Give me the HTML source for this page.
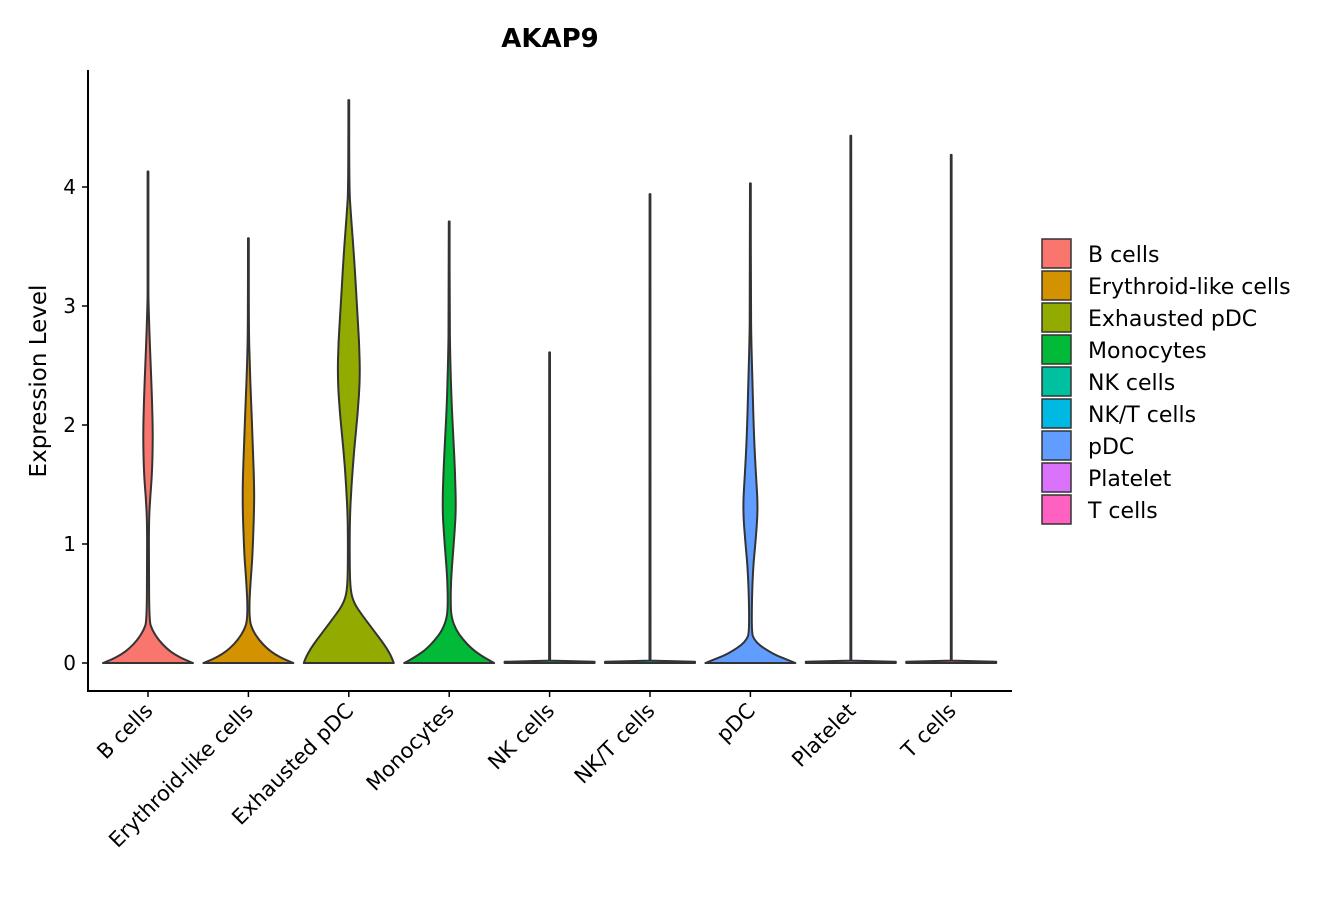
<!DOCTYPE html>
<html><head><meta charset="utf-8"><style>
body{margin:0;background:#fff;}
svg text{font-family:"DejaVu Sans","Liberation Sans",sans-serif;fill:#000;}
</style></head><body>
<svg id="chart" width="1327" height="900">
<text x="550" y="47" font-size="26" font-weight="bold" text-anchor="middle">AKAP9</text>
<text transform="translate(46,381) rotate(-90)" font-size="23" text-anchor="middle">Expression Level</text>
<g id="plot"></g>
<g id="legend"></g>
</svg>
<script>
const categories=["B cells","Erythroid-like cells","Exhausted pDC","Monocytes","NK cells","NK/T cells","pDC","Platelet","T cells"];
const colors=["#F8766D","#D39200","#93AA00","#00BA38","#00C19F","#00B9E3","#619CFF","#DB72FB","#FF61C3"];
const maxValues=[4.13,3.57,4.73,3.71,2.61,3.94,4.03,4.43,4.27];
const yTicks=[0,1,2,3,4];
// density profiles: levels (expression) and relative half-widths
const densLevels=[
 [0,0.03,0.07,0.12,0.2,0.28,0.35,0.8,1.2,1.4,1.6,1.9,2.2,2.5,2.8,3.05,3.2],
 [0,0.03,0.07,0.12,0.2,0.28,0.35,0.5,0.7,0.9,1.2,1.4,1.6,1.9,2.2,2.5,2.8],
 [0,0.05,0.12,0.2,0.3,0.4,0.5,0.6,0.8,1.2,1.5,1.8,2.1,2.4,2.7,3.0,3.4,3.8,4.0],
 [0,0.03,0.07,0.12,0.2,0.28,0.38,0.5,0.7,0.9,1.1,1.3,1.6,1.9,2.2,2.6,2.9],
 [0,0.01,0.02],
 [0,0.01,0.02],
 [0,0.03,0.06,0.1,0.15,0.2,0.25,0.5,0.8,1.0,1.3,1.6,1.9,2.3,2.7,3.0],
 [0,0.01,0.02],
 [0,0.01,0.02]
];
const densWidths=[
 [1,0.8,0.6,0.42,0.22,0.09,0.03,0.02,0.02,0.05,0.09,0.11,0.09,0.06,0.03,0.01,0.01],
 [1,0.8,0.6,0.42,0.22,0.09,0.03,0.02,0.05,0.09,0.12,0.13,0.12,0.09,0.06,0.03,0.01],
 [1,0.95,0.85,0.7,0.5,0.3,0.12,0.04,0.02,0.02,0.06,0.12,0.2,0.25,0.23,0.18,0.12,0.04,0.01],
 [1,0.85,0.68,0.5,0.3,0.15,0.05,0.03,0.04,0.08,0.12,0.15,0.13,0.09,0.05,0.02,0.01],
 [1,1,0.01],
 [1,1,0.01],
 [1,0.8,0.6,0.4,0.2,0.08,0.03,0.03,0.06,0.11,0.17,0.12,0.08,0.05,0.02,0.01],
 [1,1,0.01],
 [1,1,0.01]
];
const NS="http://www.w3.org/2000/svg";
const x0=88,x1=1012,yTop=70,yBot=691;
const yS=v=>663-v*119;
const xS=i=>148+i*100.4;
const hw=45;
function mk(tag,attrs,parent){const e=document.createElementNS(NS,tag);for(const k in attrs)e.setAttribute(k,attrs[k]);parent.appendChild(e);return e;}
function lin(pts){return "M"+pts.map(p=>p[0].toFixed(1)+","+p[1].toFixed(1)).join("L");}
function smooth(pts){if(pts.length<6)return lin(pts);
 let d="M"+pts[0][0].toFixed(1)+","+pts[0][1].toFixed(1);
 for(let k=1;k<pts.length-1;k++){const mx=(pts[k][0]+pts[k+1][0])/2,my=(pts[k][1]+pts[k+1][1])/2;d+="Q"+pts[k][0].toFixed(1)+","+pts[k][1].toFixed(1)+" "+mx.toFixed(1)+","+my.toFixed(1);}
 const l=pts[pts.length-1];d+="L"+l[0].toFixed(1)+","+l[1].toFixed(1);return d;}
const plot=document.getElementById('plot');
categories.forEach((c,i)=>{
 const cx=xS(i);
 const lv=densLevels[i].slice(),wd=densWidths[i].slice();
 lv.push(maxValues[i]);wd.push(0.008);
 let right=[],left=[];
 for(let k=0;k<lv.length;k++){right.push([cx+Math.max(wd[k]*hw,0.4),yS(lv[k])]);left.push([cx-Math.max(wd[k]*hw,0.4),yS(lv[k])]);}
 const d=smooth(right)+smooth(left.reverse()).replace("M","L")+"Z";
 const p=mk('path',{d:d,fill:colors[i],stroke:"#333",'stroke-width':2,'stroke-linejoin':'round'},plot);
 
 
 const t=mk('line',{x1:cx,x2:cx,y1:yBot,y2:yBot+6,stroke:"#000",'stroke-width':1.5},plot);
 
 
 const lab=mk('text',{transform:`translate(${cx+6},${yBot+21}) rotate(-45)`,'font-size':21,'text-anchor':'end'},plot);
 lab.textContent=c;
 
 
});
yTicks.forEach(v=>{
 const t=mk('line',{x1:x0-6,x2:x0,y1:yS(v),y2:yS(v),stroke:"#000",'stroke-width':1.5},plot);
 
 
 const l=mk('text',{x:x0-12,y:yS(v)+7,'font-size':20,'text-anchor':'end'},plot);
 l.textContent=v;
 
 
});
const ax=mk('path',{d:`M${x0},${yTop}V${yBot}H${x1}`,fill:"none",stroke:"#000",'stroke-width':2},plot);


const leg=document.getElementById('legend');
categories.forEach((c,i)=>{
 const y=239+i*32;
 const r=mk('rect',{x:1042,y:y,width:29,height:29,fill:colors[i],stroke:"#333",'stroke-width':1.5},leg);
 
 
 const t=mk('text',{x:1088,y:y+23,'font-size':22},leg);
 t.textContent=c;
 
 
});
</script>
</body></html>
